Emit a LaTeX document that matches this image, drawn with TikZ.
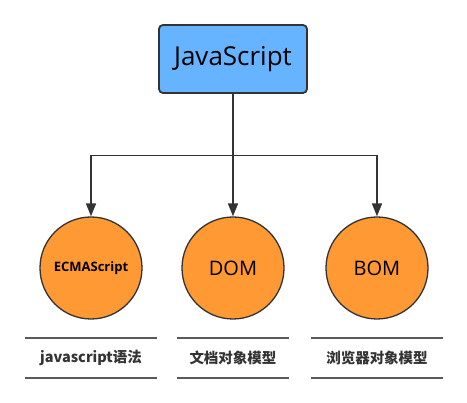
\documentclass[tikz,border=0pt]{standalone}
\usepackage{fontspec}
\setmainfont{Open Sans}
\newfontfamily\cjk{Noto Sans CJK SC}
\usetikzlibrary{arrows.meta}
\definecolor{rootcolor}{HTML}{66B3FF}
\definecolor{leafcolor}{HTML}{FF9933}
\definecolor{edgecolor}{HTML}{333333}
\tikzset{root/.style={draw=edgecolor,fill=rootcolor,rounded corners=4pt,line width=1.8pt,minimum width=148pt,minimum height=68pt,inner sep=0pt,font=\fontsize{26}{30}\selectfont},leaf/.style={circle,draw=edgecolor,fill=leafcolor,line width=1.3pt,minimum size=102pt,inner sep=0pt,font=\fontsize{20}{24}\selectfont},tree edge/.style={-{Triangle[length=13pt,width=10pt]},draw=edgecolor,line width=1.7pt},caption/.style={minimum height=40pt,inner sep=0pt,font=\cjk\bfseries\fontsize{14.5}{17}\selectfont,text=black!80},rule line/.style={draw=black!65,line width=1.6pt}}

\begin{document}
\begin{tikzpicture}[x=1pt,y=-1pt]
 \useasboundingbox (0,0) rectangle (467,403);
 \node[root] (js) at (233,59) {JavaScript};
 \coordinate (hub) at (233,155.5);
 \draw[tree edge,-] (js.south)--(hub);
 \foreach \name/\xx/\txt/\cw/\cap in {ecma/91/{\bfseries\fontsize{13}{15}\selectfont ECMAScript}/132/javascript语法,dom/233/DOM/112/文档对象模型,bom/377/BOM/131/浏览器对象模型} {
   \node[leaf] (\name) at (\xx,268) {\txt};
   \draw[tree edge] (hub) -| (\name.north);
   \node[caption,minimum width=\cw pt] (\name-cap) at (\xx,358) {\cap};
   \draw[rule line] (\name-cap.north west)--(\name-cap.north east);
   \draw[rule line] (\name-cap.south west)--(\name-cap.south east);
 }
\end{tikzpicture}
\end{document}
